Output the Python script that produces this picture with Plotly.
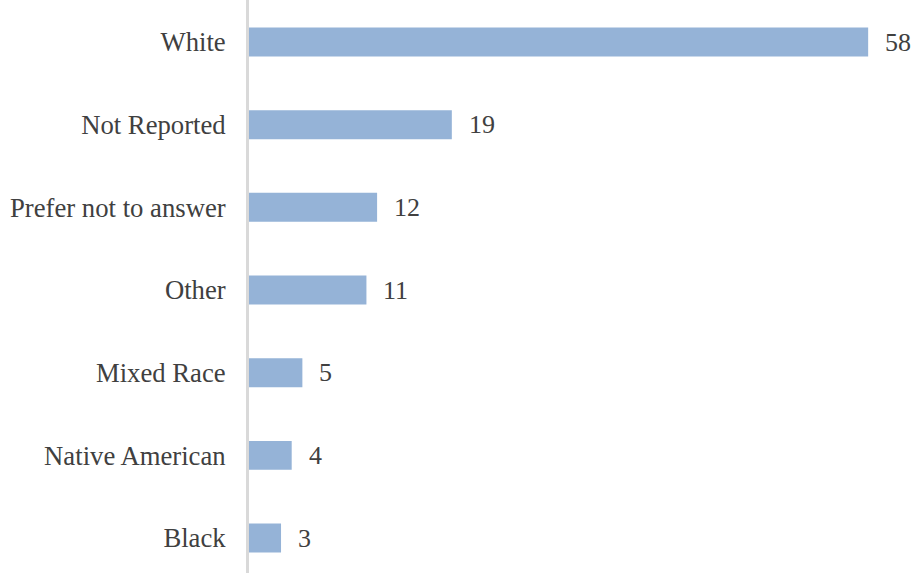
import plotly.graph_objects as go

categories = ["White", "Not Reported", "Prefer not to answer", "Other",
              "Mixed Race", "Native American", "Black"]
values = [58, 19, 12, 11, 5, 4, 3]

positions = list(range(len(categories)))
FONT = "'Liberation Serif', 'Times New Roman', serif"

fig = go.Figure()
fig.add_trace(go.Bar(
    x=values, y=positions, orientation="h",
    marker=dict(color="#95b3d7", line=dict(width=0)),
    width=0.35,
    hoverinfo="skip",
))

for v, p in zip(values, positions):
    fig.add_annotation(x=v, y=p, text=str(v), showarrow=False,
                       xanchor="left", xshift=15,
                       font=dict(family=FONT, size=26, color="#404040"))

fig.update_layout(
    width=913, height=573,
    margin=dict(l=249, r=0, t=0, b=0),
    plot_bgcolor="white", paper_bgcolor="white",
    showlegend=False,
    font=dict(family=FONT, size=26, color="#404040"),
    xaxis=dict(range=[0, 62.2], visible=False, fixedrange=True),
    yaxis=dict(
        range=[6.423, -0.508],
        tickmode="array", tickvals=positions, ticktext=categories,
        showline=True, linecolor="#d9d9d9", linewidth=3,
        showgrid=False, zeroline=False, ticks="",
        ticklabelstandoff=15,
        tickfont=dict(family=FONT, size=26.7, color="#404040"),
    ),
)

fig.write_html("out.html")
